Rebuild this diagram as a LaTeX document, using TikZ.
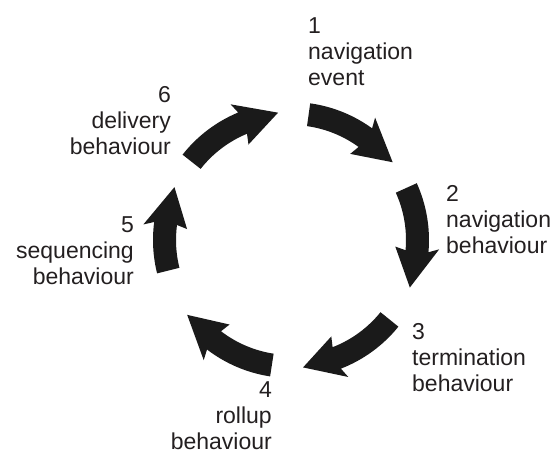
\documentclass[tikz,border=0pt]{standalone}
\usepackage{fontspec}
\setmainfont{Liberation Sans}
\usetikzlibrary{calc}
\definecolor{arrowblack}{RGB}{26,26,26}
\definecolor{textblack}{RGB}{35,31,32}
\newcommand{\cycarrow}[3]{%
  \pgfmathsetmacro{\jn}{#2-1.5}%
  \fill[arrowfill] ($(c)+(#1:138)$) arc[start angle=#1, end angle=\jn, radius=138pt]
    -- ($(c)+(#2:148.5)$) -- ($(c)+(#3:128)$) -- ($(c)+(#2:104.5)$)
    -- ($(c)+(\jn:115)$) arc[start angle=\jn, end angle=#1, radius=115pt] -- cycle;}
\begin{document}
\begin{tikzpicture}[x=1pt,y=1pt,
  arrowfill/.style={fill=arrowblack},
  lbl/.style={inner sep=0pt, text=textblack, font=\fontsize{23}{26}\selectfont}]
\useasboundingbox (0,0) rectangle (560,-457);
\coordinate (c) at (291,-240);
\cycarrow{82}{55.5}{37.4}
\cycarrow{24.3}{-3.6}{-21.8}
\cycarrow{-38.9}{-67.3}{-84.6}
\cycarrow{-98.7}{-126}{-144.2}
\cycarrow{194}{174}{155.6}
\cycarrow{141.8}{114}{95.8}
\node[lbl, align=left, anchor=base west] (l1) at (308,-86) {1\\navigation\\event};
\node[lbl, align=left, anchor=base west] (l2) at (446,-254) {2\\navigation\\behaviour};
\node[lbl, align=left, anchor=base west] (l3) at (412,-391) {3\\termination\\behaviour};
\node[lbl, align=right, anchor=base east] (l4) at (272,-449) {4\\rollup\\behaviour};
\node[lbl, align=right, anchor=base east] (l5) at (134,-285) {5\\sequencing\\behaviour};
\node[lbl, align=right, anchor=base east] (l6) at (171,-155) {6\\delivery\\behaviour};
\end{tikzpicture}
\end{document}
